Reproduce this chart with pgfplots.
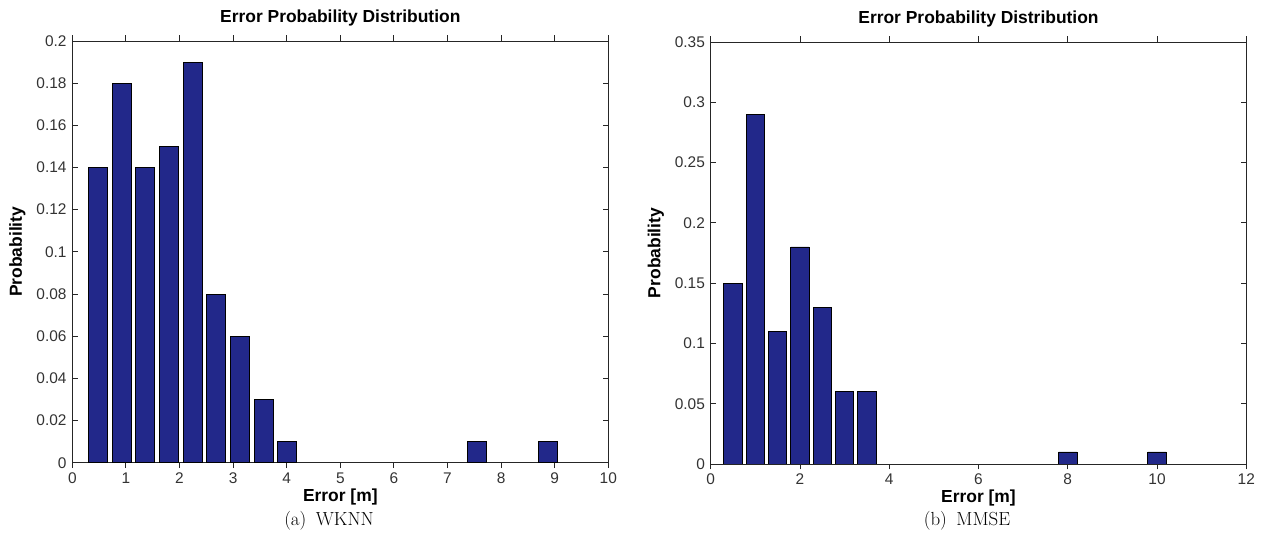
\documentclass[border=0pt]{standalone}
\usepackage{fontspec}
\newfontfamily\arial{Liberation Sans}
\usepackage{pgfplots}
\pgfplotsset{compat=1.18}

\definecolor{barblue}{RGB}{34,40,138}

\newcommand{\tickfont}{\fontsize{15.5}{17}\selectfont\arial}
\newcommand{\labfont}{\fontsize{17.5}{19}\selectfont\arial\bfseries}
\newcommand{\capfont}{\fontsize{19}{21}\selectfont}

\pgfplotsset{
  matlabhist/.style={
    scale only axis,
    anchor=south west,
    axis line style={draw=black!85, line width=0.9bp},
    tick style={draw=black!85, line width=0.9bp},
    tick align=inside,
    major tick length=5.5bp,
    /pgf/number format/assume math mode=true,
    /pgf/number format/fixed,
    /pgf/number format/precision=2,
    scaled y ticks=false,
    xticklabel style={font=\tickfont, text=black!80, anchor=base, inner sep=0pt, yshift=-15bp},
    yticklabel style={font=\tickfont, text=black!80, anchor=east, inner sep=0pt, xshift=-5.6bp},
    title style={font=\labfont, at={(0.5,1)}, anchor=base, yshift=13bp},
    xlabel style={font=\labfont, at={(0.5,0)}, anchor=base, yshift=-39bp},
    ylabel style={font=\labfont, anchor=center},
    title={Error Probability Distribution},
    xlabel={Error [m]},
    ylabel={Probability},
    ybar, bar shift=0pt,
    ymin=0,
  },
  histbar/.style={fill=barblue, draw=black, line width=0.8bp},
}

\begin{document}
\begin{tikzpicture}
\useasboundingbox (0,0) rectangle (1264bp,540bp);

% (a) WKNN
\begin{axis}[
    matlabhist,
    at={(72.3bp,77.3bp)},
    width=536bp, height=421.7bp,
    xmin=0, xmax=10, xtick={0,1,...,10},
    ymax=0.2, ytick={0,0.02,...,0.2},
    ylabel style={at={(-0.1026,0.5)}},
    bar width=0.353,
]
\addplot[histbar] coordinates {
    (0.476,0.14) (0.918,0.18) (1.359,0.14) (1.801,0.15) (2.243,0.19)
    (2.685,0.08) (3.126,0.06) (3.568,0.03) (4.010,0.01)
    (7.543,0.01) (8.868,0.01)
};
\end{axis}

% (b) MMSE
\begin{axis}[
    matlabhist,
    at={(710.7bp,76bp)},
    width=535.6bp, height=422bp,
    xmin=0, xmax=12, xtick={0,2,...,12},
    ymax=0.35, ytick={0,0.05,...,0.35},
    ylabel style={at={(-0.1026,0.5)}},
    bar width=0.41,
]
\addplot[histbar] coordinates {
    (0.5,0.15) (1.0,0.29) (1.5,0.11) (2.0,0.18) (2.5,0.13)
    (3.0,0.06) (3.5,0.06)
    (8.0,0.01) (10.0,0.01)
};
\end{axis}

\node[font=\capfont, anchor=base] at (329bp,15bp) {(a)\enspace WKNN};
\node[font=\capfont, anchor=base] at (967bp,15bp) {(b)\enspace MMSE};
\end{tikzpicture}
\end{document}
